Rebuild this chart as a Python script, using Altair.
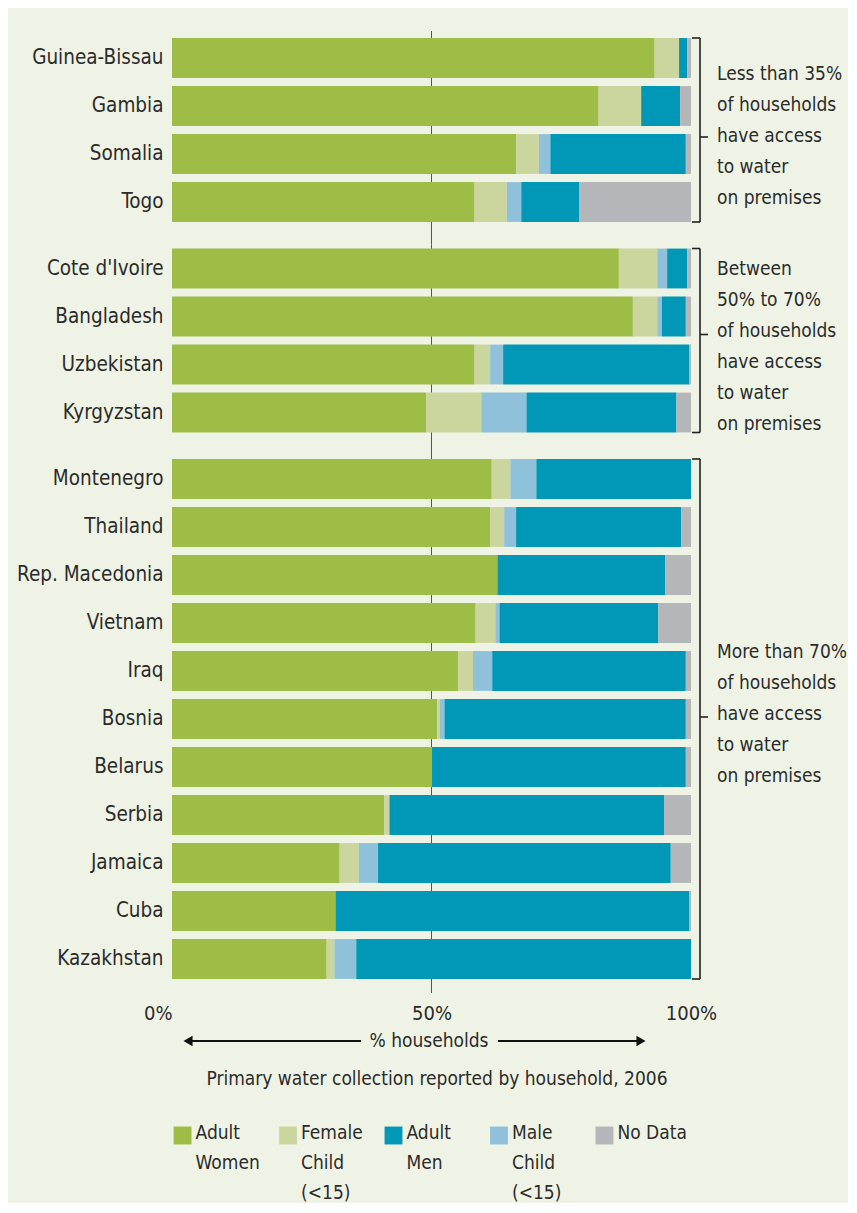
import altair as alt
import pandas as pd

# ---------------- data ----------------
countries = ["Guinea-Bissau", "Gambia", "Somalia", "Togo",
             "Cote d'Ivoire", "Bangladesh", "Uzbekistan", "Kyrgyzstan",
             "Montenegro", "Thailand", "Rep. Macedonia", "Vietnam", "Iraq",
             "Bosnia", "Belarus", "Serbia", "Jamaica", "Cuba", "Kazakhstan"]
adult_women = [93.0, 82.2, 66.3, 58.3, 86.1, 88.8, 58.3, 49.0, 61.6, 61.3,
               62.7, 58.5, 55.1, 51.1, 50.1, 40.9, 32.3, 31.5, 29.8]
female_child = [4.7, 8.2, 4.4, 6.2, 7.4, 4.7, 3.0, 10.6, 3.6, 2.7,
                0.0, 3.8, 2.9, 0.5, 0.0, 1.0, 3.7, 0.0, 1.5]
male_child = [0.0, 0.0, 2.2, 2.8, 1.9, 0.9, 2.5, 8.7, 5.0, 2.3,
              0.0, 0.8, 3.7, 0.9, 0.0, 0.0, 3.7, 0.0, 4.2]
adult_men = [1.6, 7.5, 26.1, 11.2, 3.9, 4.6, 35.9, 28.9, 29.8, 31.8,
             32.3, 30.6, 37.3, 46.5, 48.9, 52.9, 56.4, 68.2, 64.5]
no_data = [0.7, 2.1, 1.0, 21.5, 0.7, 1.0, 0.3, 2.8, 0.0, 1.9,
           5.0, 6.3, 1.0, 1.0, 1.0, 5.2, 3.9, 0.3, 0.0]

group_sizes = [4, 4, 11]
group_notes = [
    "Less than 35%\nof households\nhave access\nto water\non premises",
    "Between\n50% to 70%\nof households\nhave access\nto water\non premises",
    "More than 70%\nof households\nhave access\nto water\non premises",
]

stack_order = ["Adult Women", "Female Child (<15)", "Male Child (<15)",
               "Adult Men", "No Data"]
legend_order = ["Adult Women", "Female Child (<15)", "Adult Men",
                "Male Child (<15)", "No Data"]
legend_labels = ["Adult\nWomen", "Female\nChild\n(<15)", "Adult\nMen",
                 "Male\nChild\n(<15)", "No Data"]
palette = ["#9ebd47", "#cad69e", "#0098b6", "#8fc2da", "#b5b6b9"]

tick_values = [0, 50, 100]
x_title = "% households"
chart_title = "Primary water collection reported by household, 2006"

# ---------------- styling ----------------
FONT = "DejaVu Sans Condensed, sans-serif"
TXT = "#2b2b2b"
BG = "#eff3e5"
W = 519
STEP = 48
GAP = 18.5

series = [adult_women, female_child, male_child, adult_men, no_data]
rows = []
for ci, c in enumerate(countries):
    for si, s in enumerate(stack_order):
        rows.append({"country": c, "category": s, "value": series[si][ci], "order": si})
long_df = pd.DataFrame(rows)

cscale = alt.Scale(domain=legend_order, range=palette)
xscale = alt.Scale(domain=[0, 100], nice=False, zero=True)
dummy = pd.DataFrame({"k": [0]})


def panel(names, note, note_y, tick_y, first=False, last=False):
    h = len(names) * STEP
    sub = long_df[long_df["country"].isin(names)]
    if last:
        xaxis = alt.Axis(values=tick_values, labelExpr="datum.value + '%'",
                         domain=False, ticks=False, grid=False, title=None,
                         labelFontSize=20, labelFont=FONT, labelColor=TXT,
                         labelPadding=20, labelFlush=False,
                         labelAlign={"condition": {"test": "datum.value == 0", "value": "right"},
                                     "value": "center"})
    else:
        xaxis = None

    rule50 = alt.Chart(pd.DataFrame({"v": [50]})).mark_rule(
        color="#555555", strokeWidth=1).encode(
        x=alt.X("v:Q", scale=xscale, axis=xaxis),
        y=alt.value(-3 if first else 0),
        y2=alt.value(h + (10 if last else GAP)))

    bars = alt.Chart(sub).mark_bar().encode(
        x=alt.X("value:Q", stack="zero", scale=xscale, axis=xaxis),
        y=alt.Y("country:N", sort=names,
                scale=alt.Scale(paddingInner=0.17, paddingOuter=0.085),
                axis=alt.Axis(title=None, domain=False, ticks=False,
                              labelFontSize=20.5, labelFont=FONT, labelColor=TXT,
                              labelPadding=9, labelLimit=300)),
        color=alt.Color("category:N", scale=cscale, legend=None),
        order=alt.Order("order:Q", sort="ascending"),
    )

    bk = dict(color="#222222", strokeWidth=1.6)
    br_v = alt.Chart(dummy).mark_rule(**bk).encode(
        x=alt.value(W + 9), y=alt.value(4), y2=alt.value(h - 4))
    br_t = alt.Chart(dummy).mark_rule(**bk).encode(
        x=alt.value(W + 1), x2=alt.value(W + 9), y=alt.value(4))
    br_b = alt.Chart(dummy).mark_rule(**bk).encode(
        x=alt.value(W + 1), x2=alt.value(W + 9), y=alt.value(h - 4))
    br_m = alt.Chart(dummy).mark_rule(**bk).encode(
        x=alt.value(W + 9), x2=alt.value(W + 17), y=alt.value(tick_y))

    txt = alt.Chart(pd.DataFrame({"t": [note]})).mark_text(
        align="left", baseline="top", lineBreak="\n", fontSize=19,
        lineHeight=31, font=FONT, color=TXT).encode(
        text="t:N", x=alt.value(W + 26), y=alt.value(note_y))

    layers = [rule50, bars, br_v, br_t, br_b, br_m, txt]

    if last:
        ft = dict(font=FONT, color=TXT, fontSize=19)
        lab = alt.Chart(pd.DataFrame({"t": [x_title]})).mark_text(
            baseline="middle", **ft).encode(
            text="t:N", x=alt.value(257), y=alt.value(h + 58))
        arrow = dict(color="#111111", strokeWidth=2)
        a1 = alt.Chart(dummy).mark_rule(**arrow).encode(
            x=alt.value(18), x2=alt.value(189), y=alt.value(h + 58))
        a2 = alt.Chart(dummy).mark_rule(**arrow).encode(
            x=alt.value(326), x2=alt.value(466), y=alt.value(h + 58))
        t1 = alt.Chart(dummy).mark_point(shape="triangle-left", filled=True,
                                         size=110, color="#111111", opacity=1).encode(
            x=alt.value(16), y=alt.value(h + 58))
        t2 = alt.Chart(dummy).mark_point(shape="triangle-right", filled=True,
                                         size=110, color="#111111", opacity=1).encode(
            x=alt.value(469), y=alt.value(h + 58))
        ttl = alt.Chart(pd.DataFrame({"t": [chart_title]})).mark_text(
            baseline="middle", **ft).encode(
            text="t:N", x=alt.value(265), y=alt.value(h + 96))
        layers += [lab, a1, a2, t1, t2, ttl]

    return alt.layer(*layers).properties(width=W, height=h)


panels = []
start = 0
note_ys = [31, 15, 188]
tick_ys = [103, 90, 262]
for gi, n in enumerate(group_sizes):
    names = countries[start:start + n]
    panels.append(panel(names, group_notes[gi], note_ys[gi], tick_ys[gi],
                        first=(gi == 0), last=(gi == len(group_sizes) - 1)))
    start += n

leg_df = pd.DataFrame({"category": legend_order, "label": legend_labels})
leg_x = alt.X("category:N", sort=legend_order,
              scale=alt.Scale(type="point", padding=0.1), axis=None)
leg_sq = alt.Chart(leg_df).mark_square(size=320, opacity=1).encode(
    x=leg_x, y=alt.value(134),
    color=alt.Color("category:N", scale=cscale, legend=None))
leg_tx = alt.Chart(leg_df).mark_text(
    align="left", baseline="top", lineBreak="\n", dx=13, fontSize=19,
    lineHeight=30, font=FONT, color=TXT).encode(
    x=leg_x, y=alt.value(122), text="label:N")
legend = alt.layer(leg_sq, leg_tx).properties(width=443, height=170)

chart = alt.vconcat(*panels, legend, spacing=GAP, bounds="flush").properties(
    background=BG,
    padding={"left": 8, "top": 22, "right": 0, "bottom": 0},
).configure_view(stroke=None).configure_axis(labelFont=FONT)

chart.save("out.html", embed_options={"renderer": "svg", "actions": False})
